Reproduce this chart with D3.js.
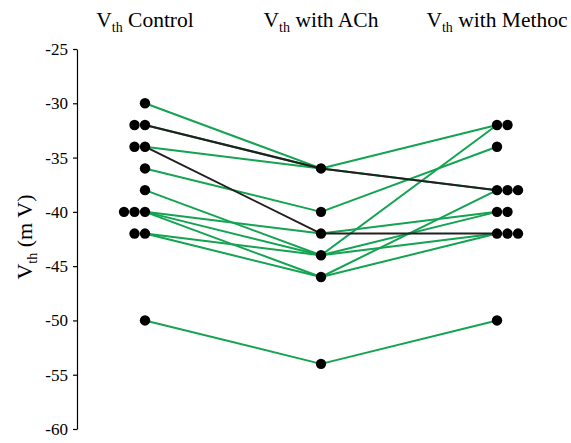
<!DOCTYPE html>
<html>
<head>
<meta charset="utf-8">
<script src="https://cdn.jsdelivr.net/npm/d3@7"></script>
<style>
  body { margin: 0; background: #fff; }
  svg { display: block; }
  text { font-family: "Liberation Serif", "Times New Roman", serif; }
</style>
</head>
<body>
<svg id="chart" width="571" height="443"></svg>
<script>
// one entry per cell, same order in every array
const conditions = ["Control", "with ACh", "with Methoc"];
const controlVals = [-30, -32, -32, -34, -34, -36, -38, -40, -40, -40, -42, -42, -50];
const achVals     = [-36, -36, -36, -36, -42, -40, -44, -42, -44, -46, -44, -46, -54];
const methocVals  = [-32, -38, -38, null, -42, -34, -32, -40, -40, -38, -42, -42, -50];
// "down" = cells that kept falling after methoc
const response    = ["up", "down", "up", "up", "down", "up", "up", "up", "up", "up", "up", "up", "up"];
const yTicks = [-60, -55, -50, -45, -40, -35, -30, -25];

const svg = d3.select("#chart");

const y = d3.scaleLinear().domain([-60, -25]).range([429, 49]);
const x = d3.scalePoint().domain(conditions).range([145, 497]);

const green = "#13a351";
const dark = "#231f20";

// y axis
const axis = svg.append("g")
  .attr("transform", "translate(77,0)")
  .call(d3.axisLeft(y).tickValues(yTicks).tickFormat(d => String(d))
    .tickSize(4).tickSizeOuter(0).tickPadding(5));
axis.attr("font-family", "Liberation Serif").attr("font-size", 17);
axis.select(".domain").attr("stroke", "#000").attr("stroke-width", 1.2);
axis.selectAll(".tick line").attr("stroke", "#000").attr("stroke-width", 1.2);
axis.selectAll(".tick text").attr("fill", "#000");

// y label
const yl = svg.append("text")
  .attr("transform", "translate(32,237) rotate(-90)")
  .attr("text-anchor", "middle")
  .attr("font-size", 22);
yl.append("tspan").text("V");
yl.append("tspan").attr("font-size", 14).attr("dy", 5).text("th");
yl.append("tspan").attr("dy", -5).text(" (m V)");

// headers
conditions.forEach(c => {
  const t = svg.append("text")
    .attr("x", x(c))
    .attr("y", 26.5)
    .attr("text-anchor", "middle")
    .attr("font-size", 21.5);
  t.append("tspan").text("V");
  t.append("tspan").attr("font-size", 14).attr("dy", 5).text("th");
  t.append("tspan").attr("dy", -5).text(" " + c);
});

// connecting lines, dark ones on top
const subjects = controlVals.map((v, i) => ({
  vals: [v, achVals[i], methocVals[i]],
  resp: response[i]
}));
const ordered = subjects.filter(s => s.resp === "up").concat(subjects.filter(s => s.resp === "down"));

const lines = svg.append("g");
ordered.forEach(s => {
  for (let k = 0; k < 2; k++) {
    if (s.vals[k] == null || s.vals[k + 1] == null) continue;
    lines.append("line")
      .attr("x1", x(conditions[k]))
      .attr("y1", y(s.vals[k]))
      .attr("x2", x(conditions[k + 1]))
      .attr("y2", y(s.vals[k + 1]))
      .attr("stroke", s.resp === "down" ? dark : green)
      .attr("stroke-width", 2);
  }
});

// dots: repeats fan out left for control, right for methoc, ACh shows one
const cols = [controlVals, achVals, methocVals];
const spread = [-10.5, 0, 10.5];
const dots = svg.append("g");
cols.forEach((vals, k) => {
  const counts = d3.rollup(vals.filter(v => v != null), g => g.length, v => v);
  counts.forEach((n, v) => {
    const m = spread[k] === 0 ? 1 : n;
    for (let j = 0; j < m; j++) {
      dots.append("circle")
        .attr("cx", x(conditions[k]) + j * spread[k])
        .attr("cy", y(v))
        .attr("r", 5.2)
        .attr("fill", "#000");
    }
  });
});
</script>
</body>
</html>
